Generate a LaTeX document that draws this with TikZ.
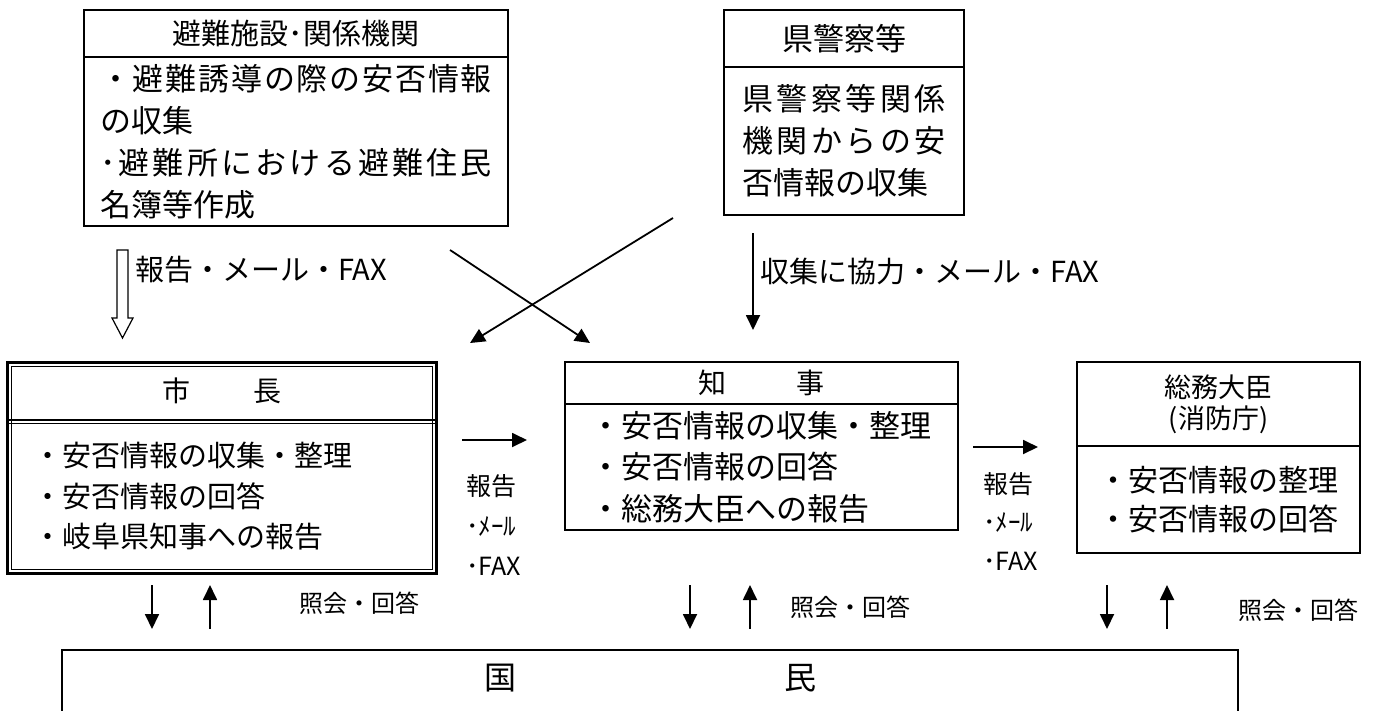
\documentclass[tikz,border=0pt]{standalone}
\usepackage{fontspec}
\setmainfont{Noto Sans CJK JP}
\usetikzlibrary{arrows.meta,positioning}

\makeatletter
\newcommand\spreadline[2]{\makebox[#1][s]{\let\spr@gap\relax\@tfor\spr@ch:=#2\do{\spr@gap\spr@ch\let\spr@gap\hfil}}}
\makeatother

\newcommand\fs[2]{\fontsize{#1}{#2}\selectfont}

\tikzset{
  boxline/.style={line width=2pt},
  headbox/.style={draw,boxline,outer sep=0pt,inner sep=0pt,align=center},
  bodybox/.style={draw,boxline,outer sep=0pt,inner ysep=0pt,align=left},
  arr/.style={->,line width=1.8pt},
  lab/.style={inner sep=0pt,align=left}
}

\begin{document}
\begin{tikzpicture}[x=1pt,y=-1pt,>={Triangle[length=15pt,width=14pt]}]

\useasboundingbox (0,0) rectangle (1380,710);

% evacuation facilities
\node (evachead) [headbox,minimum width=424pt,minimum height=47pt,font=\fs{29}{34}] at (296,33.5) {避難施設･関係機関};
\node (evacbody) [bodybox,below=0pt of evachead,minimum width=424pt,minimum height=169pt,text width=392pt,font=\fs{31}{42}]
  {\spreadline{392pt}{・避難誘導の際の安否情報}\\の収集\\\spreadline{392pt}{･避難所における避難住民}\\名簿等作成};

% police
\node (policehead) [headbox,minimum width=240pt,minimum height=57pt,font=\fs{31}{36}] at (844,38.5) {県警察等};
\node (policebody) [bodybox,below=0pt of policehead,minimum width=240pt,minimum height=148pt,text width=204pt,font=\fs{31}{42}]
  {\spreadline{204pt}{県警察等関係}\\\spreadline{204pt}{機関からの安}\\否情報の収集};

% mayor, double frame
\node (mayorhead) [headbox,draw=none,minimum width=429pt,minimum height=58pt,font=\fs{28}{34}] at (221.5,391) {市\hspace{63pt}長};
\node (mayorbody) [bodybox,draw=none,below=0pt of mayorhead,minimum width=429pt,minimum height=153pt,text width=377pt,font=\fs{29}{40.5}]
  {・安否情報の収集・整理\\・安否情報の回答\\・岐阜県知事への報告};
\draw[line width=3pt] (mayorhead.north west) rectangle (mayorbody.south east);
\draw[line width=1pt] ([shift={(4,4)}]mayorhead.north west) rectangle ([shift={(-4,-4)}]mayorbody.south east);
\draw[line width=2pt] (mayorhead.south west) -- (mayorhead.south east);
\draw[line width=1pt] ([shift={(0,3.5)}]mayorhead.south west) -- ([shift={(0,3.5)}]mayorhead.south east);

% governor
\node (govhead) [headbox,minimum width=393pt,minimum height=42pt,font=\fs{28}{34}] at (761.5,383) {知\hspace{70pt}事};
\node (govbody) [bodybox,below=0pt of govhead,minimum width=393pt,minimum height=126pt,text width=343pt,font=\fs{31}{41.5}]
  {・安否情報の収集・整理\\・安否情報の回答\\・総務大臣への報告};

% minister
\node (minhead) [headbox,minimum width=283pt,minimum height=84pt,font=\fs{27}{31}] at (1218.5,404) {総務大臣\\(消防庁)};
\node (minbody) [bodybox,below=0pt of minhead,minimum width=283pt,minimum height=107pt,text width=240pt,font=\fs{30}{39}]
  {・安否情報の整理\\・安否情報の回答};

% people
\node (people) [outer sep=0pt,minimum width=1176pt,minimum height=56pt,font=\fs{32}{38}] at (650,678) {国\hspace{268pt}民};
\draw[boxline] ([shift={(0,30)}]people.south west) |- (people.north east) -- ([shift={(0,30)}]people.south east);

% hollow arrow
\coordinate (evacout) at (122.5,250);
\coordinate (mayorin) at (122.5,338);
\draw[line width=1.2pt] ([shift={(-5.5,0)}]evacout) -- ([shift={(5.5,0)}]evacout) -- ([shift={(5.5,-20)}]mayorin)
  -- ([shift={(10.5,-20)}]mayorin) -- (mayorin) -- ([shift={(-10.5,-20)}]mayorin) -- ([shift={(-5.5,-20)}]mayorin) -- cycle;
\node (evaclab) [lab,anchor=west,font=\fs{29}{32}] at (135,270) {報告・メール・FAX};

% crossing arrows
\coordinate (evacx) at (450,250);
\coordinate (govx) at (590,343);
\coordinate (policex) at (673,218);
\coordinate (mayorx) at (470,343);
\draw[arr] (evacx) -- (govx);
\draw[arr] (policex) -- (mayorx);

\coordinate (policeout) at (753,233);
\coordinate (govin) at (753,330);
\draw[arr] (policeout) -- (govin);
\node (policelab) [lab,anchor=west,font=\fs{29}{32}] at (760,272) {収集に協力・メール・FAX};

% reports to the right
\coordinate (mayorrep) at (462,440);
\coordinate (govrepin) at (527,440);
\draw[arr] (mayorrep) -- (govrepin);
\node (mayorreplab) [lab,anchor=west,font=\fs{25}{40}] at (466,525) {報告\\･ﾒｰﾙ\\･FAX};

\coordinate (govrep) at (973,447);
\coordinate (minrepin) at (1038,447);
\draw[arr] (govrep) -- (minrepin);
\node (govreplab) [lab,anchor=west,font=\fs{25}{38.5}] at (983,521) {報告\\･ﾒｰﾙ\\･FAX};

% queries
\foreach \i/\dx/\ux/\lx/\ly in {1/152/210/359/603,2/690/750/850/607,3/1107/1167/1298/610}{
  \coordinate (dtop\i) at (\dx,585);
  \coordinate (dbot\i) at (\dx,629);
  \coordinate (ubot\i) at (\ux,629);
  \coordinate (utop\i) at (\ux,585);
  \draw[arr] (dtop\i) -- (dbot\i);
  \draw[arr] (ubot\i) -- (utop\i);
  \node (ask\i) [font=\fs{24}{28}] at (\lx,\ly) {照会・回答};
}

\end{tikzpicture}
\end{document}
